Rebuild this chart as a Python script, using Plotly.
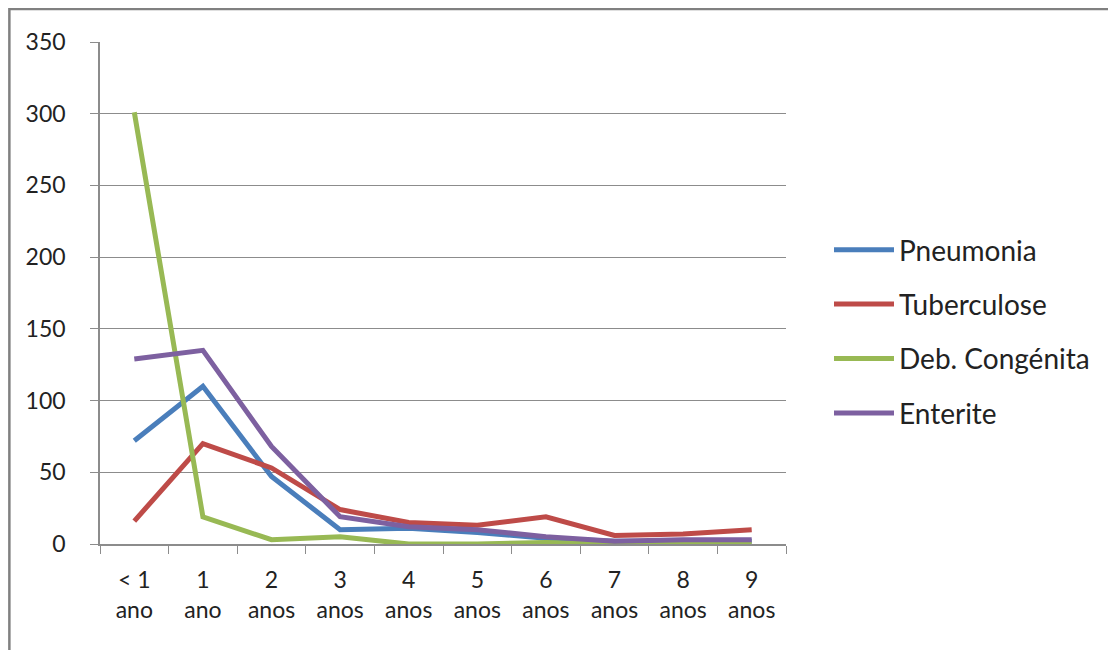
import plotly.graph_objects as go

categories = ["< 1<br>ano", "1<br>ano", "2<br>anos", "3<br>anos", "4<br>anos",
              "5<br>anos", "6<br>anos", "7<br>anos", "8<br>anos", "9<br>anos"]
pneumonia = [72, 110, 47, 10, 11, 8, 4, 2, 2, 2]
tuberculose = [16, 70, 53, 24, 15, 13, 19, 6, 7, 10]
deb_congenita = [301, 19, 3, 5, 0, 0, 1, 0, 0, 0]
enterite = [129, 135, 68, 19, 12, 10, 5, 2, 3, 3]

series_names = ["Pneumonia", "Tuberculose", "Deb. Congénita", "Enterite"]
series_values = [pneumonia, tuberculose, deb_congenita, enterite]
colors = ["#4A7EBB", "#BE4B48", "#98B954", "#7D60A0"]

fig = go.Figure()
for name, vals, c in zip(series_names, series_values, colors):
    fig.add_trace(go.Scatter(x=categories, y=vals, name=name, mode="lines",
                             line=dict(color=c, width=5), legendgroup=name))

font = dict(family="Lato, 'Open Sans', sans-serif", size=23, color="#222222")
L, T = 92, 34
PW, PH = 686, 502
fig.update_layout(
    width=1116, height=650,
    margin=dict(l=L, r=1116 - L - PW, t=T, b=650 - T - PH),
    paper_bgcolor="white", plot_bgcolor="white",
    font=font,
    showlegend=True,
    legend=dict(x=(829 - 100) / PW, y=(544 - 225) / PH, xanchor="left", yanchor="top",
                font=dict(size=28), tracegroupgap=15, itemwidth=60,
                bgcolor="rgba(0,0,0,0)"),
    xaxis=dict(range=[-0.5, 9.5], showline=True, linecolor="#8c8c8c", linewidth=1.5,
               ticks="outside", tickson="boundaries", ticklen=8, tickcolor="#8c8c8c",
               showgrid=False, tickfont=dict(size=23), ticklabelstandoff=15),
    yaxis=dict(range=[0, 350], dtick=50, showline=True, linecolor="#8c8c8c", linewidth=1.5,
               ticks="outside", ticklen=8, tickcolor="#8c8c8c",
               showgrid=True, gridcolor="#8c8c8c", gridwidth=1.2,
               zeroline=False, tickfont=dict(size=23), ticklabelstandoff=20),
)
fig.add_shape(type="rect", xref="paper", yref="paper",
              x0=-L / PW + 0.002, x1=1.6, y0=-0.5, y1=(PH + T - 1) / PH,
              line=dict(color="#808080", width=2.5), fillcolor="rgba(0,0,0,0)")
fig.write_html("out.html")
